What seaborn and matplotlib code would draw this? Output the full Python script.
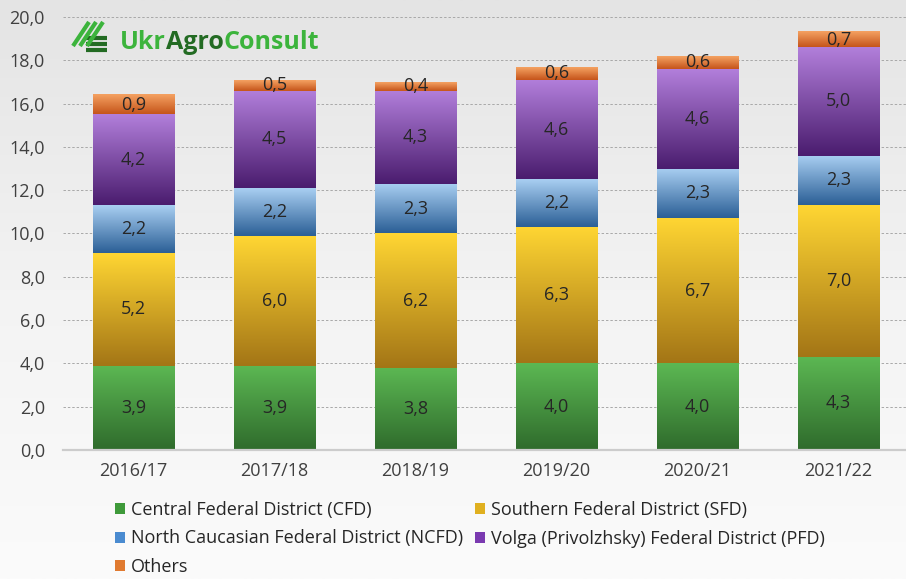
import numpy as np
import pandas as pd
import seaborn as sns
import matplotlib
matplotlib.use("Agg")
import matplotlib.pyplot as plt
from matplotlib.colors import LinearSegmentedColormap
from matplotlib.patches import Patch
from matplotlib.lines import Line2D

# ---------------- data ----------------
seasons = ["2016/17", "2017/18", "2018/19", "2019/20", "2020/21", "2021/22"]
cfd = [3.9, 3.9, 3.8, 4.0, 4.0, 4.3]
sfd = [5.2, 6.0, 6.2, 6.3, 6.7, 7.0]
ncfd = [2.2, 2.2, 2.3, 2.2, 2.3, 2.3]
pfd = [4.2, 4.5, 4.3, 4.6, 4.6, 5.0]
others = [0.9, 0.5, 0.4, 0.6, 0.6, 0.7]
series_names = ["Central Federal District (CFD)",
                "Southern Federal District (SFD)",
                "North Caucasian Federal District (NCFD)",
                "Volga (Privolzhsky) Federal District (PFD)",
                "Others"]
y_ticks = [0, 2, 4, 6, 8, 10, 12, 14, 16, 18, 20]

# ---------------- styles ----------------
top_cols = ["#5cb853", "#ffd633", "#a9cff2", "#b27fdb", "#f5a262"]
bot_cols = ["#2f6b2c", "#a37516", "#2b5f96", "#4a1c6e", "#c5541a"]
mid_cols = ["#3f9a3a", "#e0b020", "#4a8bd0", "#7a3ab0", "#e07a30"]

series = [cfd, sfd, ncfd, pfd, others]
cums = []
run = np.zeros(len(seasons))
for s in series:
    run = run + np.array(s)
    cums.append(run.copy())

sns.set_theme(style="white")
plt.rcParams["font.family"] = ["Open Sans", "DejaVu Sans"]

fig = plt.figure(figsize=(9.06, 5.79), dpi=100)

# background gradient
bg = fig.add_axes([0, 0, 1, 1], zorder=-10)
bg.axis("off")
bgcmap = LinearSegmentedColormap.from_list("bg", ["#fbfbfb", "#f3f3f3", "#e4e4e4"])
bg.imshow(np.linspace(0, 1, 256)[:, None], cmap=bgcmap, aspect="auto",
          origin="lower", extent=[0, 1, 0, 1])
bg.set_xlim(0, 1)
bg.set_ylim(0, 1)

ax = fig.add_axes([63 / 906, 1 - 450 / 579, 846 / 906, (450 - 17) / 579])
ax.set_facecolor("none")

grad = np.linspace(0, 1, 256)[:, None]
for k in range(len(series) - 1, -1, -1):
    n_before = len(ax.patches)
    sns.barplot(x=seasons, y=cums[k], color=mid_cols[k], width=0.575,
                linewidth=0, saturation=1, ax=ax, zorder=1)
    new = ax.patches[n_before:]
    cmap = LinearSegmentedColormap.from_list(f"g{k}", [bot_cols[k], top_cols[k]])
    for i, p in enumerate(new):
        x0, w = p.get_x(), p.get_width()
        lo = cums[k - 1][i] if k > 0 else 0.0
        hi = cums[k][i]
        ax.imshow(grad, cmap=cmap, aspect="auto", origin="lower",
                  extent=[x0, x0 + w, lo, hi], zorder=2 + k * 0.01,
                  interpolation="bicubic")
        ax.text(x0 + w / 2, (lo + hi) / 2, f"{series[k][i]:.1f}".replace(".", ","),
                ha="center", va="center", fontsize=13, color="#262626", zorder=5)

ax.set_xlim(-0.5, 5.5)
ax.set_ylim(0, 20)
ax.set_yticks(y_ticks)
ax.set_yticklabels([f"{v:.1f}".replace(".", ",") for v in y_ticks])
ax.tick_params(axis="y", length=0, pad=13, labelsize=13, labelcolor="#404040")
ax.tick_params(axis="x", length=0, pad=9, labelsize=13, labelcolor="#404040")
ax.set_xlabel("")
ax.set_ylabel("")
ax.set_axisbelow(True)
ax.yaxis.grid(True, linestyle=(0, (2.5, 2)), color="#a8a8a8", linewidth=0.7)
for s in ["top", "right", "left"]:
    ax.spines[s].set_visible(False)
ax.spines["bottom"].set_color("#cccccc")
ax.spines["bottom"].set_linewidth(1.6)

# legend
order = [0, 2, 4, 1, 3]
handles = [Patch(facecolor=mid_cols[i], edgecolor="none") for i in order]
labels = [series_names[i] for i in order]
fig.legend(handles, labels, loc="upper left", bbox_to_anchor=(106 / 906, 1 - 492 / 579),
           ncol=2, frameon=False, fontsize=13, handlelength=0.55, handleheight=0.55,
           handletextpad=0.35, columnspacing=0.64, labelspacing=0.58, borderpad=0,
           labelcolor="#262626")

# logo
fig.canvas.draw()
renderer = fig.canvas.get_renderer()
xpos = 120 / 906
ybase = 1 - 49 / 579
for part, col in [("Ukr", "#3cb43c"), ("Agro", "#236b23"), ("Consult", "#3cb43c")]:
    t = fig.text(xpos, ybase, part, fontsize=18, fontweight="bold", color=col,
                 va="baseline", ha="left")
    bb = t.get_window_extent(renderer=renderer)
    xpos += bb.width / fig.bbox.width


def fx(px):
    return px / 906


def fy(py):
    return 1 - py / 579


for yy in [38, 44, 50]:
    fig.add_artist(Line2D([fx(86), fx(107)], [fy(yy), fy(yy)],
                          color="#236b23", linewidth=3.0, solid_capstyle="butt"))
for k in range(3):
    fig.add_artist(Line2D([fx(73 + 7 * k), fx(89 + 7 * k)], [fy(46), fy(22)],
                          color="#3cb43c", linewidth=3.0, solid_capstyle="butt"))

fig.savefig("out.png", dpi=100)
